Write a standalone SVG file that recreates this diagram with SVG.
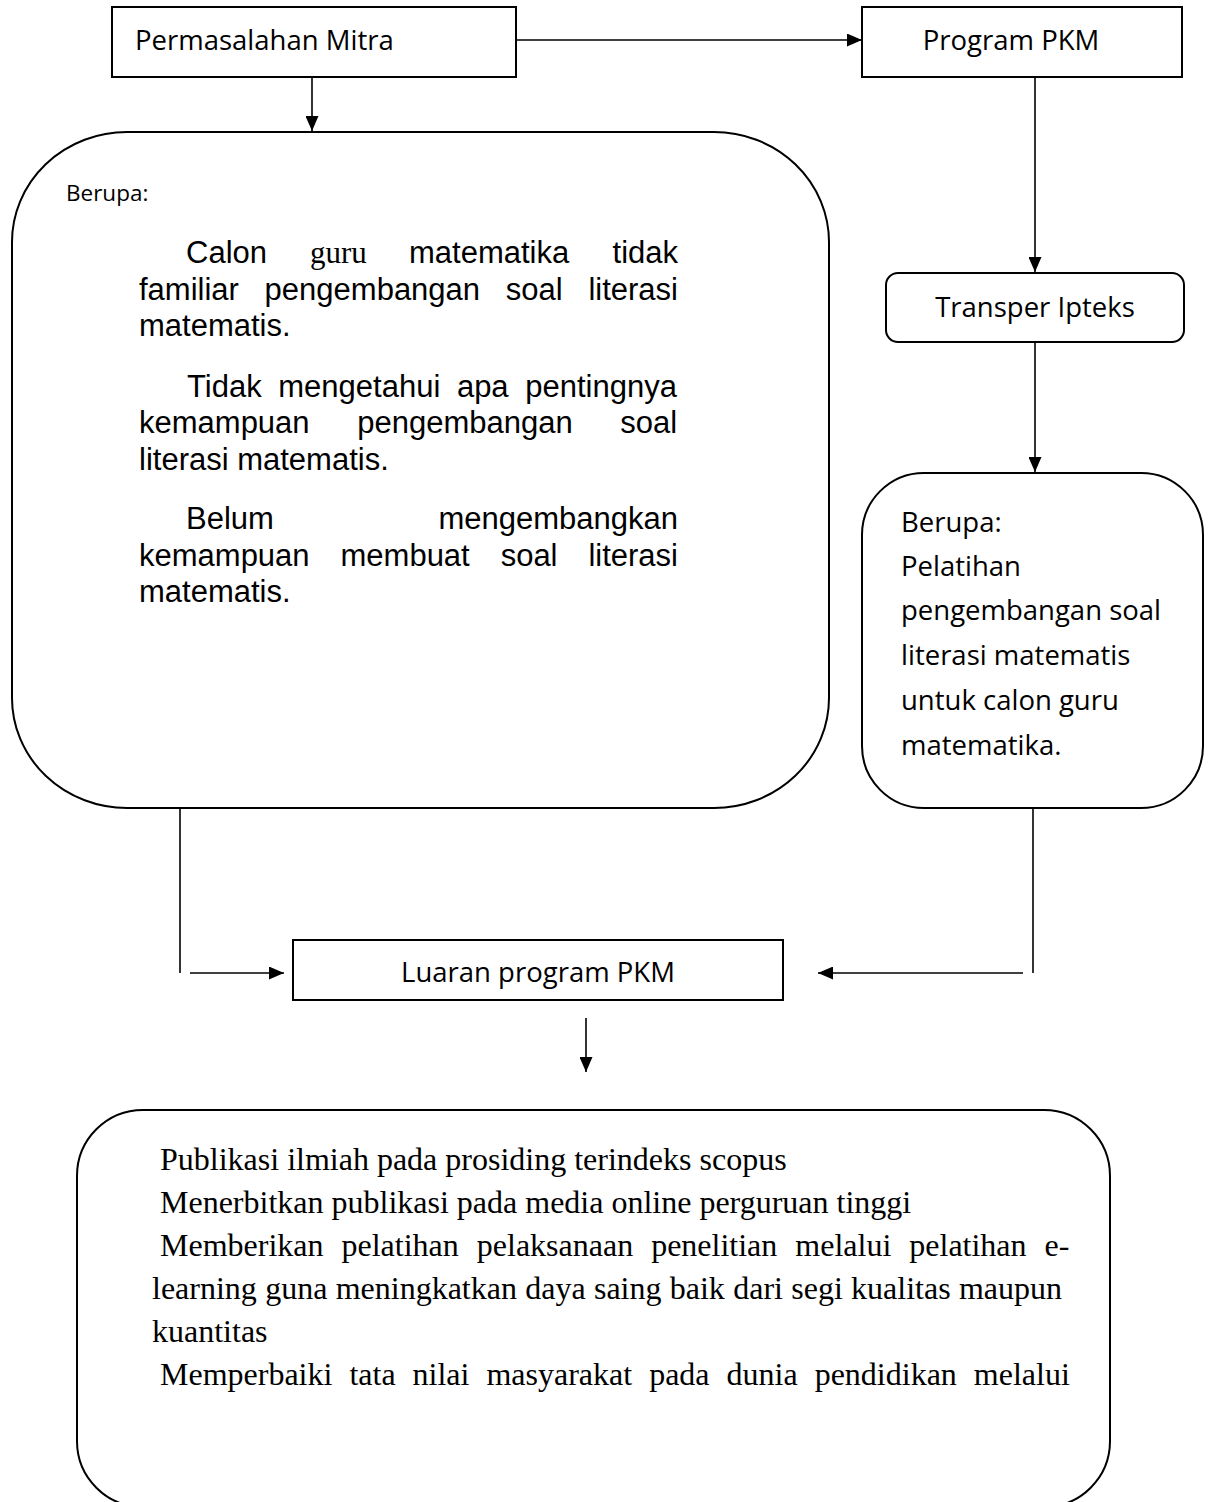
<svg xmlns="http://www.w3.org/2000/svg" width="1210" height="1502" viewBox="0 0 1210 1502">
<style>
.box{fill:#fff;stroke:#000;stroke-width:2}
.ln{stroke:#000;stroke-width:1.6;fill:none}
.cal{font-family:"Open Sans","Liberation Sans",sans-serif;font-size:27.5px;fill:#000}
.sm{font-family:"Open Sans","Liberation Sans",sans-serif;font-size:22.5px;fill:#000}
.ar{font-family:"Liberation Sans",Arial,sans-serif;font-size:31px;fill:#000}
.tm{font-family:"Liberation Serif","Times New Roman",serif;font-size:32px;fill:#000}
.tm31{font-family:"Liberation Serif","Times New Roman",serif;font-size:31px;fill:#000}
</style>
<defs>
<marker id="ah" markerUnits="userSpaceOnUse" markerWidth="15" markerHeight="13" refX="15" refY="6.5" orient="auto">
<path d="M0,0 L15,6.5 L0,13 z" fill="#000"/>
</marker>
</defs>
<rect width="1210" height="1502" fill="#fff"/>

<g id="connectors">
<path class="ln" d="M516,40 H862" marker-end="url(#ah)"/>
<path class="ln" d="M312,77 V131" marker-end="url(#ah)"/>
<path class="ln" d="M1035,77 V272" marker-end="url(#ah)"/>
<path class="ln" d="M1035,337 V472" marker-end="url(#ah)"/>
<path class="ln" d="M180,808 V973"/>
<path class="ln" d="M190,973 H284" marker-end="url(#ah)"/>
<path class="ln" d="M1033,808 V973"/>
<path class="ln" d="M1023,973 H818" marker-end="url(#ah)"/>
<path class="ln" d="M586,1018 V1072" marker-end="url(#ah)"/>
</g>

<g id="permasalahan">
<rect class="box" x="112" y="7" width="404" height="70"/>
<text class="cal" x="135" y="50">Permasalahan Mitra</text>
</g>

<g id="program">
<rect class="box" x="862" y="7" width="320" height="70"/>
<text class="cal" x="1011" y="50" text-anchor="middle">Program PKM</text>
</g>

<g id="berupa-left">
<rect class="box" x="12" y="132" width="817" height="676" rx="115" ry="110"/>
<text class="sm" x="66" y="201">Berupa:</text>
<text class="ar" y="263"><tspan x="186">Calon</tspan><tspan class="tm31" x="310">guru</tspan><tspan x="409">matematika</tspan><tspan x="678" text-anchor="end">tidak</tspan></text>
<text class="ar" x="139" y="299.5" style="word-spacing:17.1px">familiar pengembangan soal literasi</text>
<text class="ar" x="139" y="336">matematis.</text>
<text class="ar" x="187" y="396.5" style="word-spacing:8px">Tidak mengetahui apa pentingnya</text>
<text class="ar" x="139" y="433" style="word-spacing:39px">kemampuan pengembangan soal</text>
<text class="ar" x="139" y="469.5">literasi matematis.</text>
<text class="ar" x="186" y="529">Belum</text>
<text class="ar" x="678" y="529" text-anchor="end">mengembangkan</text>
<text class="ar" x="139" y="565.5" style="word-spacing:22.3px">kemampuan membuat soal literasi</text>
<text class="ar" x="139" y="602">matematis.</text>
</g>

<g id="transper">
<rect class="box" x="886" y="273" width="298" height="69" rx="12"/>
<text class="cal" x="1035" y="317" text-anchor="middle">Transper Ipteks</text>
</g>

<g id="berupa-right">
<rect class="box" x="862" y="473" width="341" height="335" rx="62"/>
<text class="cal" x="901" y="532">Berupa:</text>
<text class="cal" x="901" y="576">Pelatihan</text>
<text class="cal" x="901" y="620">pengembangan soal</text>
<text class="cal" x="901" y="665">literasi matematis</text>
<text class="cal" x="901" y="710">untuk calon guru</text>
<text class="cal" x="901" y="755">matematika.</text>
</g>

<g id="luaran">
<rect class="box" x="293" y="940" width="490" height="60"/>
<text class="cal" x="538" y="982" text-anchor="middle">Luaran program PKM</text>
</g>

<g id="hasil">
<rect class="box" x="77" y="1110" width="1033" height="397" rx="66"/>
<text class="tm" x="160" y="1170">Publikasi ilmiah pada prosiding terindeks scopus</text>
<text class="tm" x="160" y="1213">Menerbitkan publikasi pada media online perguruan tinggi</text>
<text class="tm" x="160" y="1256" style="word-spacing:10px">Memberikan pelatihan pelaksanaan penelitian melalui pelatihan e-</text>
<text class="tm" x="152" y="1299" style="word-spacing:0.3px">learning guna meningkatkan daya saing baik dari segi kualitas maupun</text>
<text class="tm" x="152" y="1342">kuantitas</text>
<text class="tm" x="160" y="1385" style="word-spacing:9px">Memperbaiki tata nilai masyarakat pada dunia pendidikan melalui</text>
</g>
</svg>
